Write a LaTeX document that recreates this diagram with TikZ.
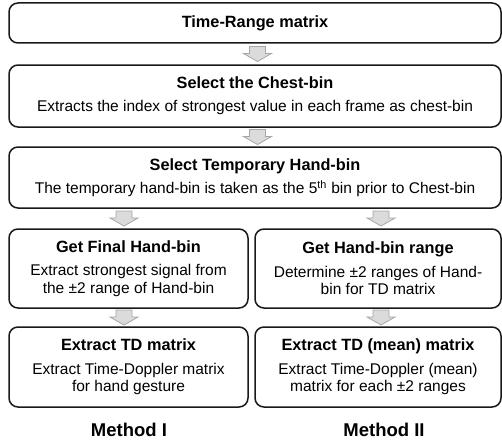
\documentclass[tikz,border=0pt]{standalone}
\usepackage{fontspec}
\setmainfont{Liberation Sans}
\usetikzlibrary{calc}

% grey block arrow pointing down, centred on the given point
\newcommand{\downarrowblock}[1]{%
  \path #1 coordinate (ba);
  \draw[flowarrow] ($(ba)+(-8,7.5)$) -- ($(ba)+(8,7.5)$) -- ($(ba)+(8,0.5)$)
    -- ($(ba)+(14,0.5)$) -- ($(ba)+(0,-7.5)$) -- ($(ba)+(-14,0.5)$)
    -- ($(ba)+(-8,0.5)$) -- cycle;}
\newcommand{\stagetitle}[1]{{\fontsize{16.3}{17.5}\selectfont\bfseries #1}}

\begin{document}
\begin{tikzpicture}[x=1pt,y=1pt,
  stagebox/.style={draw=black!90, line width=1.5pt, rounded corners=9pt,
    align=center, inner sep=0pt, font=\fontsize{15.5}{17.5}\selectfont},
  flowarrow/.style={draw=gray!70, fill=gray!28, line width=0.8pt, line join=miter},
  methodlabel/.style={font=\fontsize{18.5}{20}\selectfont\bfseries}]
\useasboundingbox (0,0) rectangle (502,-444);

\node[stagebox, minimum width=492, minimum height=40] (tr) at (255,-23)
  {\stagetitle{Time-Range matrix}};
\node[stagebox, minimum width=492, minimum height=62] (chest) at (255,-96)
  {\stagetitle{Select the Chest-bin}\\[5.5pt]
   Extracts the index of strongest value in each frame as chest-bin};
\node[stagebox, minimum width=492, minimum height=61] (temp) at (255,-177.5)
  {\stagetitle{Select Temporary Hand-bin}\\[5.5pt]
   The temporary hand-bin is taken as the 5\textsuperscript{th} bin prior to Chest-bin};

\node[stagebox, minimum width=239, minimum height=79] (final) at (128.5,-268.5)
  {\stagetitle{Get Final Hand-bin}\\[6pt]
   Extract strongest signal from\\ the \textpm2 range of Hand-bin};
\node[stagebox, minimum width=246, minimum height=79] (range) at (378,-268.5)
  {\stagetitle{Get Hand-bin range}\\[6pt]
   Determine \textpm2 ranges of Hand-\\ bin for TD matrix};

\node[stagebox, minimum width=239, minimum height=80] (td) at (128.5,-367)
  {\stagetitle{Extract TD matrix}\\[6pt]
   Extract Time-Doppler matrix\\ for hand gesture};
\node[stagebox, minimum width=246, minimum height=80] (tdmean) at (378,-367)
  {\stagetitle{Extract TD (mean) matrix}\\[6pt]
   Extract Time-Doppler (mean)\\ matrix for each \textpm2 ranges};

\node[methodlabel, anchor=base] (m1) at (129,-436) {Method I};
\node[methodlabel, anchor=base] (m2) at (384,-436) {Method II};

% flow between the stages
\downarrowblock{($(tr.south)!0.5!(chest.north)+(2.5,0)$)}
\downarrowblock{($(chest.south)!0.5!(temp.north)+(2.5,0)$)}
\downarrowblock{($(temp.south -| final.north)!0.5!(final.north)+(-4.5,0)$)}
\downarrowblock{($(temp.south -| range.north)!0.5!(range.north)+(3,0)$)}
\downarrowblock{($(final.south)!0.5!(td.north)+(-4.5,0)$)}
\downarrowblock{($(range.south)!0.5!(tdmean.north)+(3,0)$)}
\end{tikzpicture}
\end{document}
